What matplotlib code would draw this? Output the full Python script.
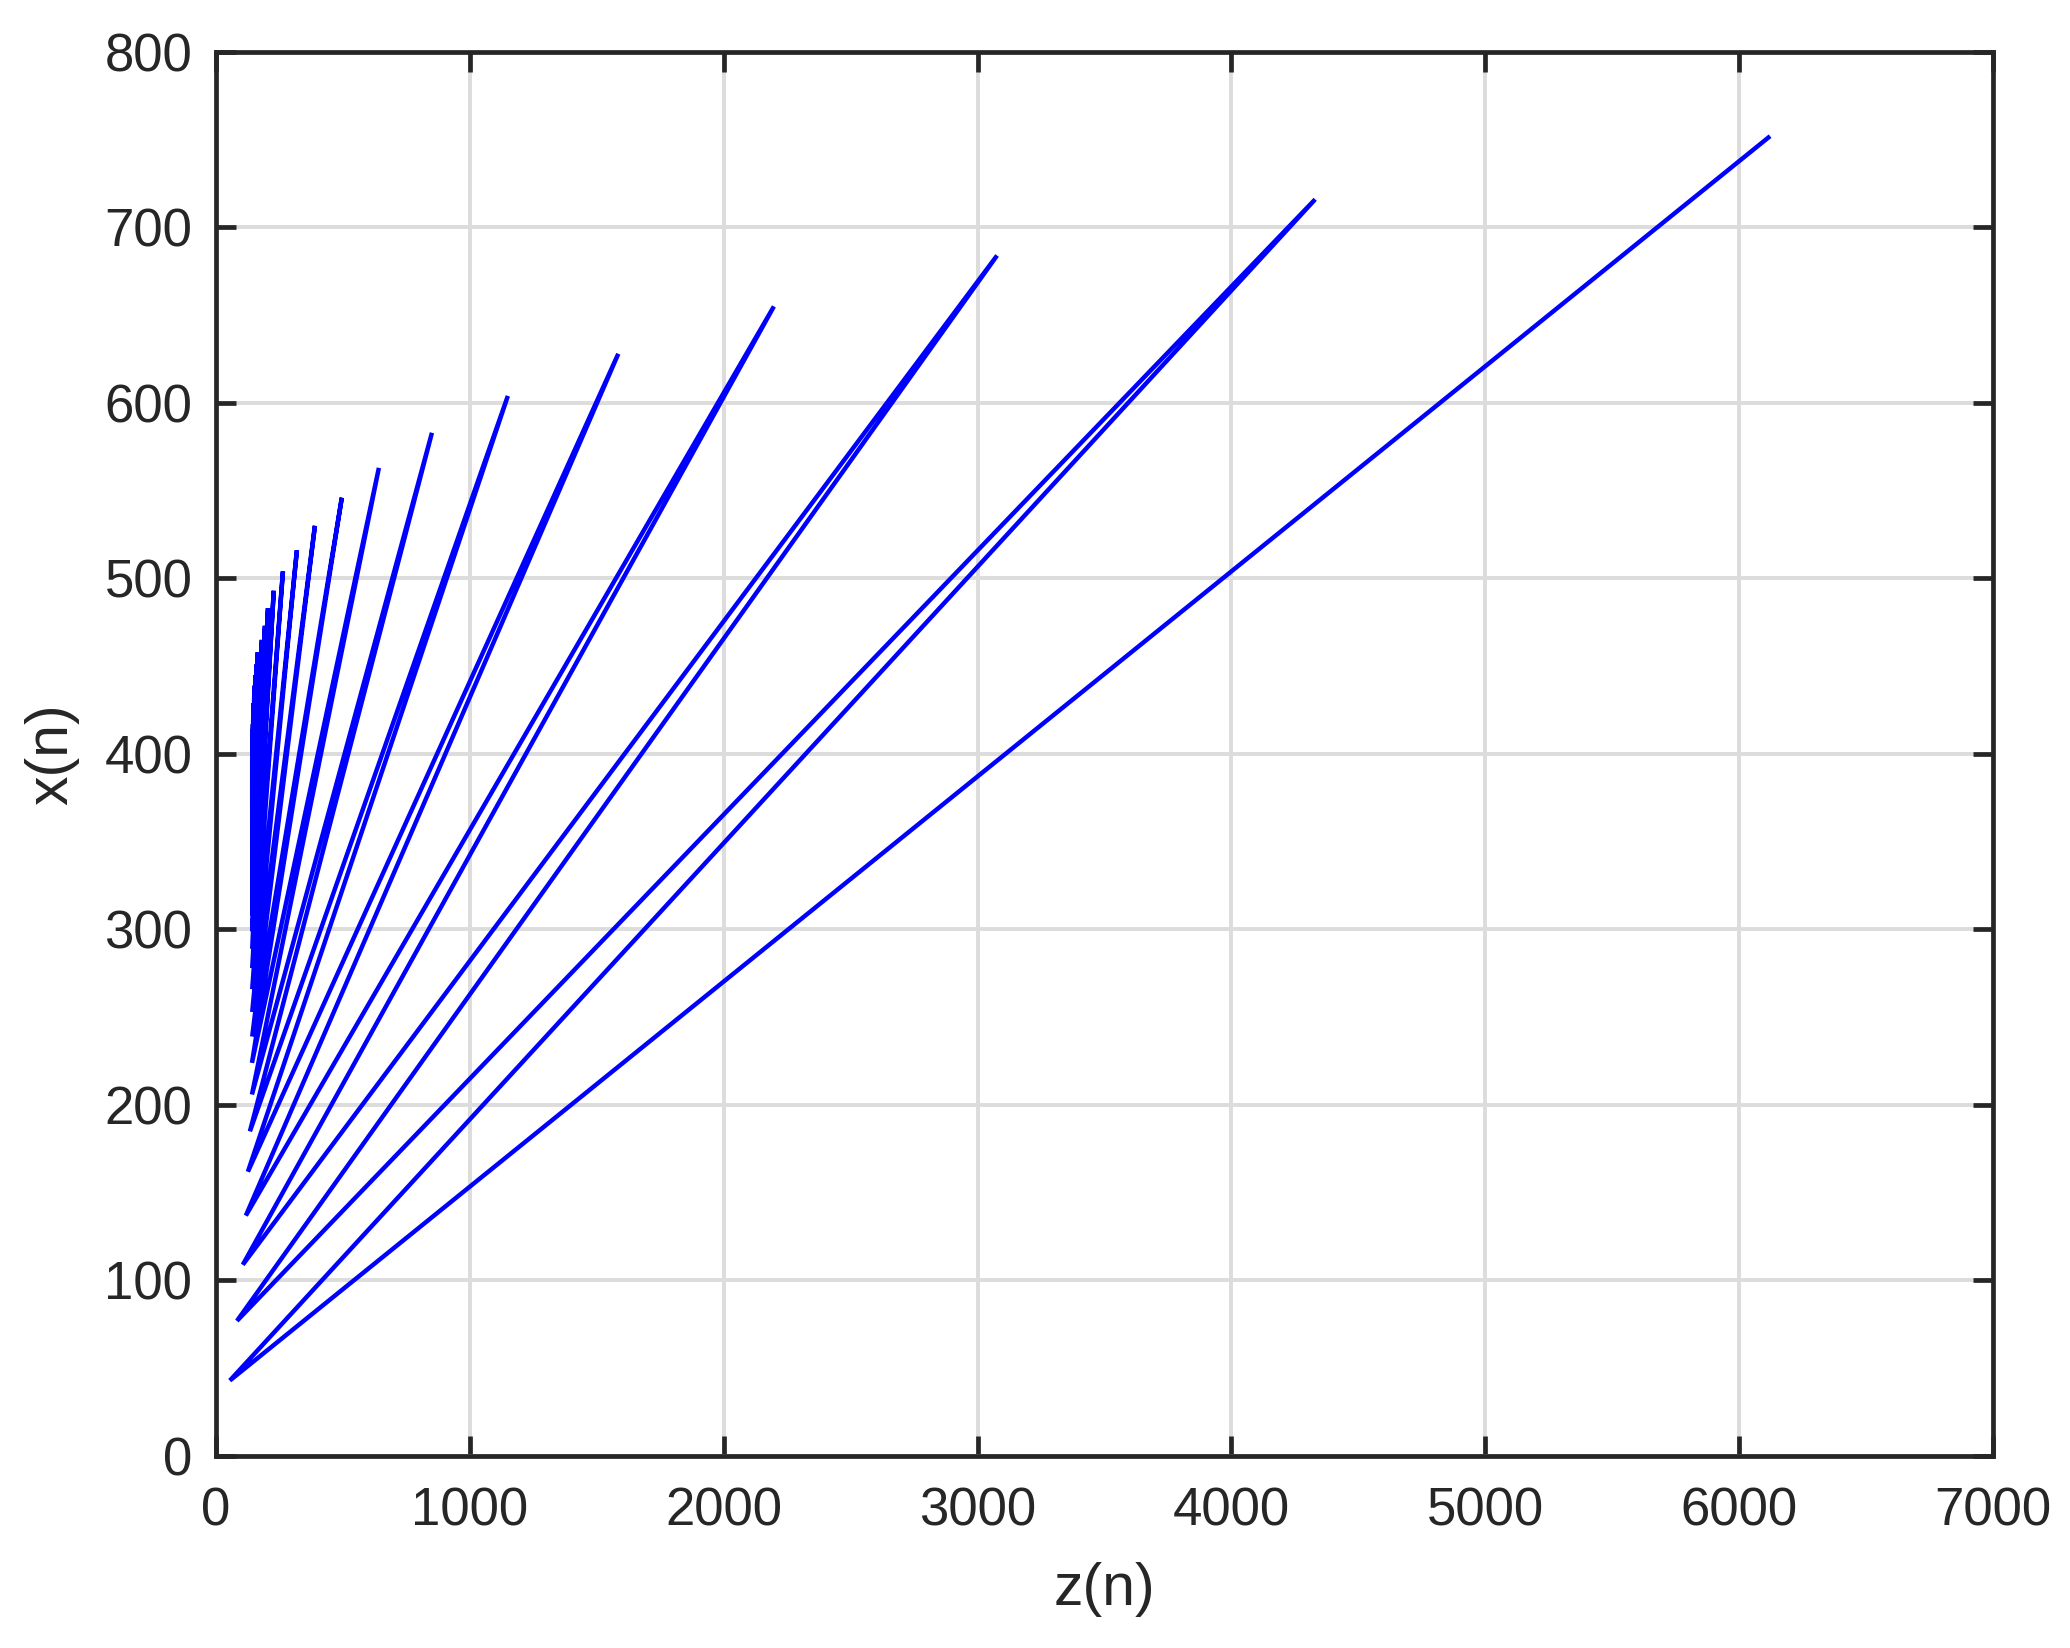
import matplotlib
matplotlib.use('Agg')
import matplotlib.pyplot as plt

# turning points of the orbit
# upper points (large z)
high_z = [6122, 4330, 3077, 2198, 1585, 1150, 851, 642, 496, 390, 319, 264,
          228, 205, 193, 181, 165, 160, 156, 153, 151, 149, 148, 147, 146,
          145.5, 145, 144.5, 144, 144, 143.5, 143.5, 143]
high_x = [752, 716, 684, 655, 628, 604, 583, 563, 546, 530, 516, 504,
          493, 483, 473, 465, 458, 451, 445, 439, 434, 429, 425, 421, 417,
          414, 411, 408, 405, 403, 401, 399, 397]
# lower points (small z)
low_z = [55, 83, 106, 118, 126, 134, 142, 142, 143, 143, 143, 143, 143,
         143, 143, 143, 143, 143, 143, 143, 143, 143, 143, 143, 143, 143,
         143, 143, 143, 143, 143, 143, 143]
low_x = [43, 77, 109, 137, 162, 185, 206, 224, 239, 253, 266, 278, 289,
         299, 308, 316, 323, 330, 336, 341, 346, 350, 354, 358, 361, 364,
         367, 369, 371, 373, 375, 377, 378]

x_ticks = [0, 1000, 2000, 3000, 4000, 5000, 6000, 7000]
y_ticks = [0, 100, 200, 300, 400, 500, 600, 700, 800]

z = []
x = []
for i in range(len(high_z)):
    z.append(high_z[i])
    x.append(high_x[i])
    z.append(low_z[i])
    x.append(low_x[i])

plt.rcParams['font.family'] = ['Liberation Sans', 'DejaVu Sans']

dark = '#262626'
fig = plt.figure(figsize=(20.7, 16.48), dpi=100)
ax = fig.add_axes([0.1043, 0.1165, 0.8585, 0.852])

ax.plot(z, x, color=(0, 0, 1), linewidth=3.2, solid_joinstyle='miter',
        solid_capstyle='butt')

ax.set_xlim(0, 7000)
ax.set_ylim(0, 800)
ax.set_xticks(x_ticks)
ax.set_yticks(y_ticks)
ax.grid(True, color='#dcdcdc', linewidth=2.8)
ax.set_axisbelow(True)

for s in ax.spines.values():
    s.set_color(dark)
    s.set_linewidth(3.4)

ax.tick_params(axis='both', direction='in', length=14.4, width=3.4,
               colors=dark, labelsize=38, top=True, right=True)
ax.tick_params(axis='x', pad=22)
ax.tick_params(axis='y', pad=17)

ax.set_xlabel('z(n)', fontsize=42.5, color=dark, labelpad=18)
ax.set_ylabel('x(n)', fontsize=42.5, color=dark, labelpad=18)

fig.savefig('out.png', dpi=100)
